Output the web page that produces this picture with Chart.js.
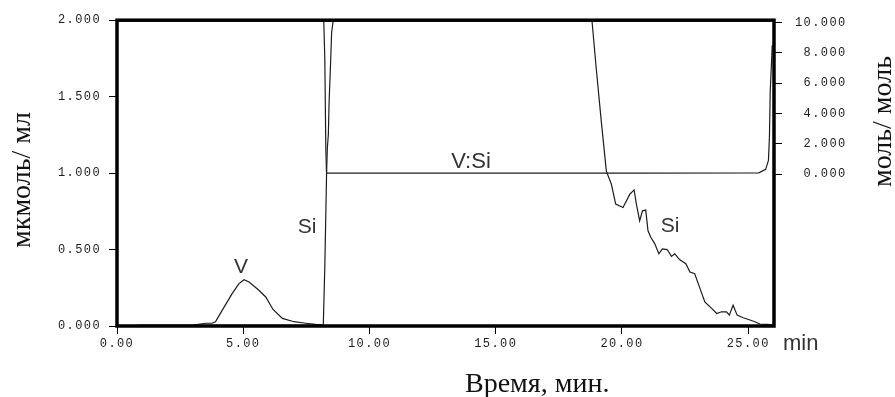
<!DOCTYPE html>
<html>
<head>
<meta charset="utf-8">
<script src="https://cdn.jsdelivr.net/npm/chart.js@4"></script>
<style>
  html, body { margin: 0; padding: 0; background: #fff; }
  #wrap { width: 895px; height: 397px; }
</style>
</head>
<body>
<div id="wrap"><canvas id="c" width="895" height="397"></canvas></div>
<script>
// Elution time, min
const vTime  = [0.8, 2.0, 3.0, 3.51, 3.76, 3.90, 4.17, 4.56, 4.83, 5.03, 5.23, 5.62, 5.89, 6.18, 6.55, 7.01, 7.48, 7.87, 8.10];
// Vanadium, µmol/ml
const vConc  = [0.004, 0.004, 0.006, 0.018, 0.018, 0.028, 0.104, 0.212, 0.277, 0.303, 0.288, 0.234, 0.190, 0.108, 0.050, 0.028, 0.018, 0.011, 0.008];

const siTime = [0.8, 2.0, 4.0, 6.0, 8.10, 8.17, 8.23, 8.30, 8.27, 8.23, 8.19, 8.18,
                18.54, 18.81, 18.98, 19.18, 19.38, 19.58, 19.75, 20.04, 20.31, 20.48,
                20.57, 20.70, 20.81, 20.94, 21.03, 21.14, 21.30, 21.46, 21.60, 21.79,
                21.96, 22.09, 22.29, 22.53, 22.69, 22.88, 23.02, 23.28, 23.55, 23.75,
                23.94, 24.14, 24.25, 24.40, 24.56, 24.80, 25.07, 25.26, 25.46, 25.73, 25.95];
// Silicon, µmol/ml (values above 2 run off the top of the scale)
const siConc = [0.004, 0.004, 0.004, 0.004, 0.004, 0.006, 0.385, 0.995, 1.16, 1.75, 1.99, 2.5,
                2.5, 2.0, 1.684, 1.338, 1.013, 0.927, 0.797, 0.775, 0.862, 0.890,
                0.797, 0.688, 0.753, 0.758, 0.623, 0.580, 0.537, 0.472, 0.505, 0.500,
                0.455, 0.472, 0.433, 0.407, 0.353, 0.342, 0.277, 0.158, 0.115, 0.082,
                0.093, 0.093, 0.071, 0.136, 0.071, 0.054, 0.039, 0.028, 0.013, 0.011, 0.008];

// V:Si molar ratio, mol/mol (right axis)
const ratioTime  = [8.60, 8.56, 8.50, 8.46, 8.40, 8.37, 8.33, 8.30, 12.0, 16.0, 20.0, 25.42, 25.69, 25.80, 25.84, 25.87, 25.95];
const ratioValue = [11.0, 10.1, 9.35, 7.38, 4.76, 2.6, 1.70, 0.06, 0.06, 0.06, 0.06, 0.08, 0.31, 0.9, 2.5, 5.4, 8.5];

const xTicks     = [0, 5, 10, 15, 20, 25];
const leftTicks  = [0, 0.5, 1.0, 1.5, 2.0];
const rightTicks = [0, 2, 4, 6, 8, 10];

const pairs = (xs, ys) => xs.map((x, i) => ({ x: x, y: ys[i] }));
const asTicks = arr => arr.map(v => ({ value: v }));

const tickFont = { family: '"Liberation Mono", "DejaVu Sans Mono", monospace', size: 12 };
const ink = '#1c1c1c';

// wide spacing for the numeric tick labels
const spacing = {
  id: 'spacing',
  beforeUpdate(chart) { chart.ctx.letterSpacing = '1.4px'; },
  beforeDraw(chart) { chart.ctx.letterSpacing = '1.4px'; }
};

// heavy rectangular frame round the plot area
const frame = {
  id: 'frame',
  afterDatasetsDraw(chart) {
    const { ctx, chartArea: a } = chart;
    ctx.save();
    ctx.strokeStyle = '#000';
    ctx.lineWidth = 3.5;
    ctx.strokeRect(a.left, a.top, a.right - a.left, a.bottom - a.top);
    ctx.restore();
  }
};

// axis titles and curve labels
const labels = {
  id: 'labels',
  afterDraw(chart) {
    const ctx = chart.ctx;
    ctx.save();
    ctx.letterSpacing = '0px';
    ctx.fillStyle = '#111';
    ctx.textBaseline = 'alphabetic';

    ctx.font = '28px "Liberation Serif", "Times New Roman", serif';
    ctx.save();
    ctx.translate(30, 180);
    ctx.rotate(-Math.PI / 2);
    ctx.textAlign = 'center';
    ctx.fillText('мкмоль/ мл', 0, 0);
    ctx.restore();

    ctx.save();
    ctx.translate(891, 187);
    ctx.rotate(-Math.PI / 2);
    ctx.textAlign = 'left';
    ctx.fillText('моль/ моль', 0, 0);
    ctx.restore();

    ctx.textAlign = 'left';
    ctx.fillText('Время, мин.', 465, 392);

    ctx.fillStyle = '#333';
    ctx.font = '22px "Liberation Sans", Arial, sans-serif';
    ctx.fillText('min', 783, 350);

    ctx.font = '21px "Liberation Sans", Arial, sans-serif';
    ctx.textAlign = 'center';
    ctx.fillText('V', 241, 273);
    ctx.fillText('Si', 307, 233);
    ctx.fillText('Si', 670, 232);
    ctx.font = '22px "Liberation Sans", Arial, sans-serif';
    ctx.fillText('V:Si', 471, 168);
    ctx.restore();
  }
};

const lineStyle = { borderColor: ink, borderWidth: 1.2, pointRadius: 0, tension: 0, fill: false };

new Chart(document.getElementById('c'), {
  type: 'line',
  data: {
    datasets: [
      Object.assign({ label: 'V', data: pairs(vTime, vConc), yAxisID: 'y' }, lineStyle),
      Object.assign({ label: 'Si', data: pairs(siTime, siConc), yAxisID: 'y' }, lineStyle),
      Object.assign({ label: 'V:Si', data: pairs(ratioTime, ratioValue), yAxisID: 'y1' }, lineStyle)
    ]
  },
  options: {
    responsive: false,
    animation: false,
    devicePixelRatio: 1,
    layout: { padding: { top: 17, left: 0, right: 0, bottom: 0 } },
    plugins: { legend: { display: false }, tooltip: { enabled: false } },
    scales: {
      x: {
        type: 'linear', position: 'bottom', min: 0, max: 26.02,
        afterBuildTicks: s => { s.ticks = asTicks(xTicks); },
        afterFit: s => { s.height = 71; },
        grid: { drawOnChartArea: false, drawTicks: true, tickLength: 8, color: '#000', lineWidth: 1 },
        border: { display: false },
        ticks: { font: tickFont, color: ink, padding: 3, maxRotation: 0, autoSkip: false,
                 callback: v => Number(v).toFixed(2) }
      },
      y: {
        type: 'linear', position: 'left', min: 0, max: 2,
        afterBuildTicks: s => { s.ticks = asTicks(leftTicks); },
        afterFit: s => { s.width = 117; },
        grid: { drawOnChartArea: false, drawTicks: true, tickLength: 8, color: '#000', lineWidth: 1 },
        border: { display: false },
        ticks: { font: tickFont, color: ink, padding: 8, autoSkip: false,
                 callback: v => Number(v).toFixed(3) }
      },
      y1: {
        type: 'linear', position: 'right', min: -10.04, max: 10.16,
        afterBuildTicks: s => { s.ticks = asTicks(rightTicks); },
        afterFit: s => { s.width = 121; },
        grid: { drawOnChartArea: false, drawTicks: true, tickLength: 8, color: '#000', lineWidth: 1 },
        border: { display: false },
        ticks: { font: tickFont, color: ink, padding: 13, crossAlign: 'near', autoSkip: false,
                 callback: v => Number(v).toFixed(3).padStart(6, ' ') }
      }
    }
  },
  plugins: [spacing, frame, labels]
});
</script>
</body>
</html>
